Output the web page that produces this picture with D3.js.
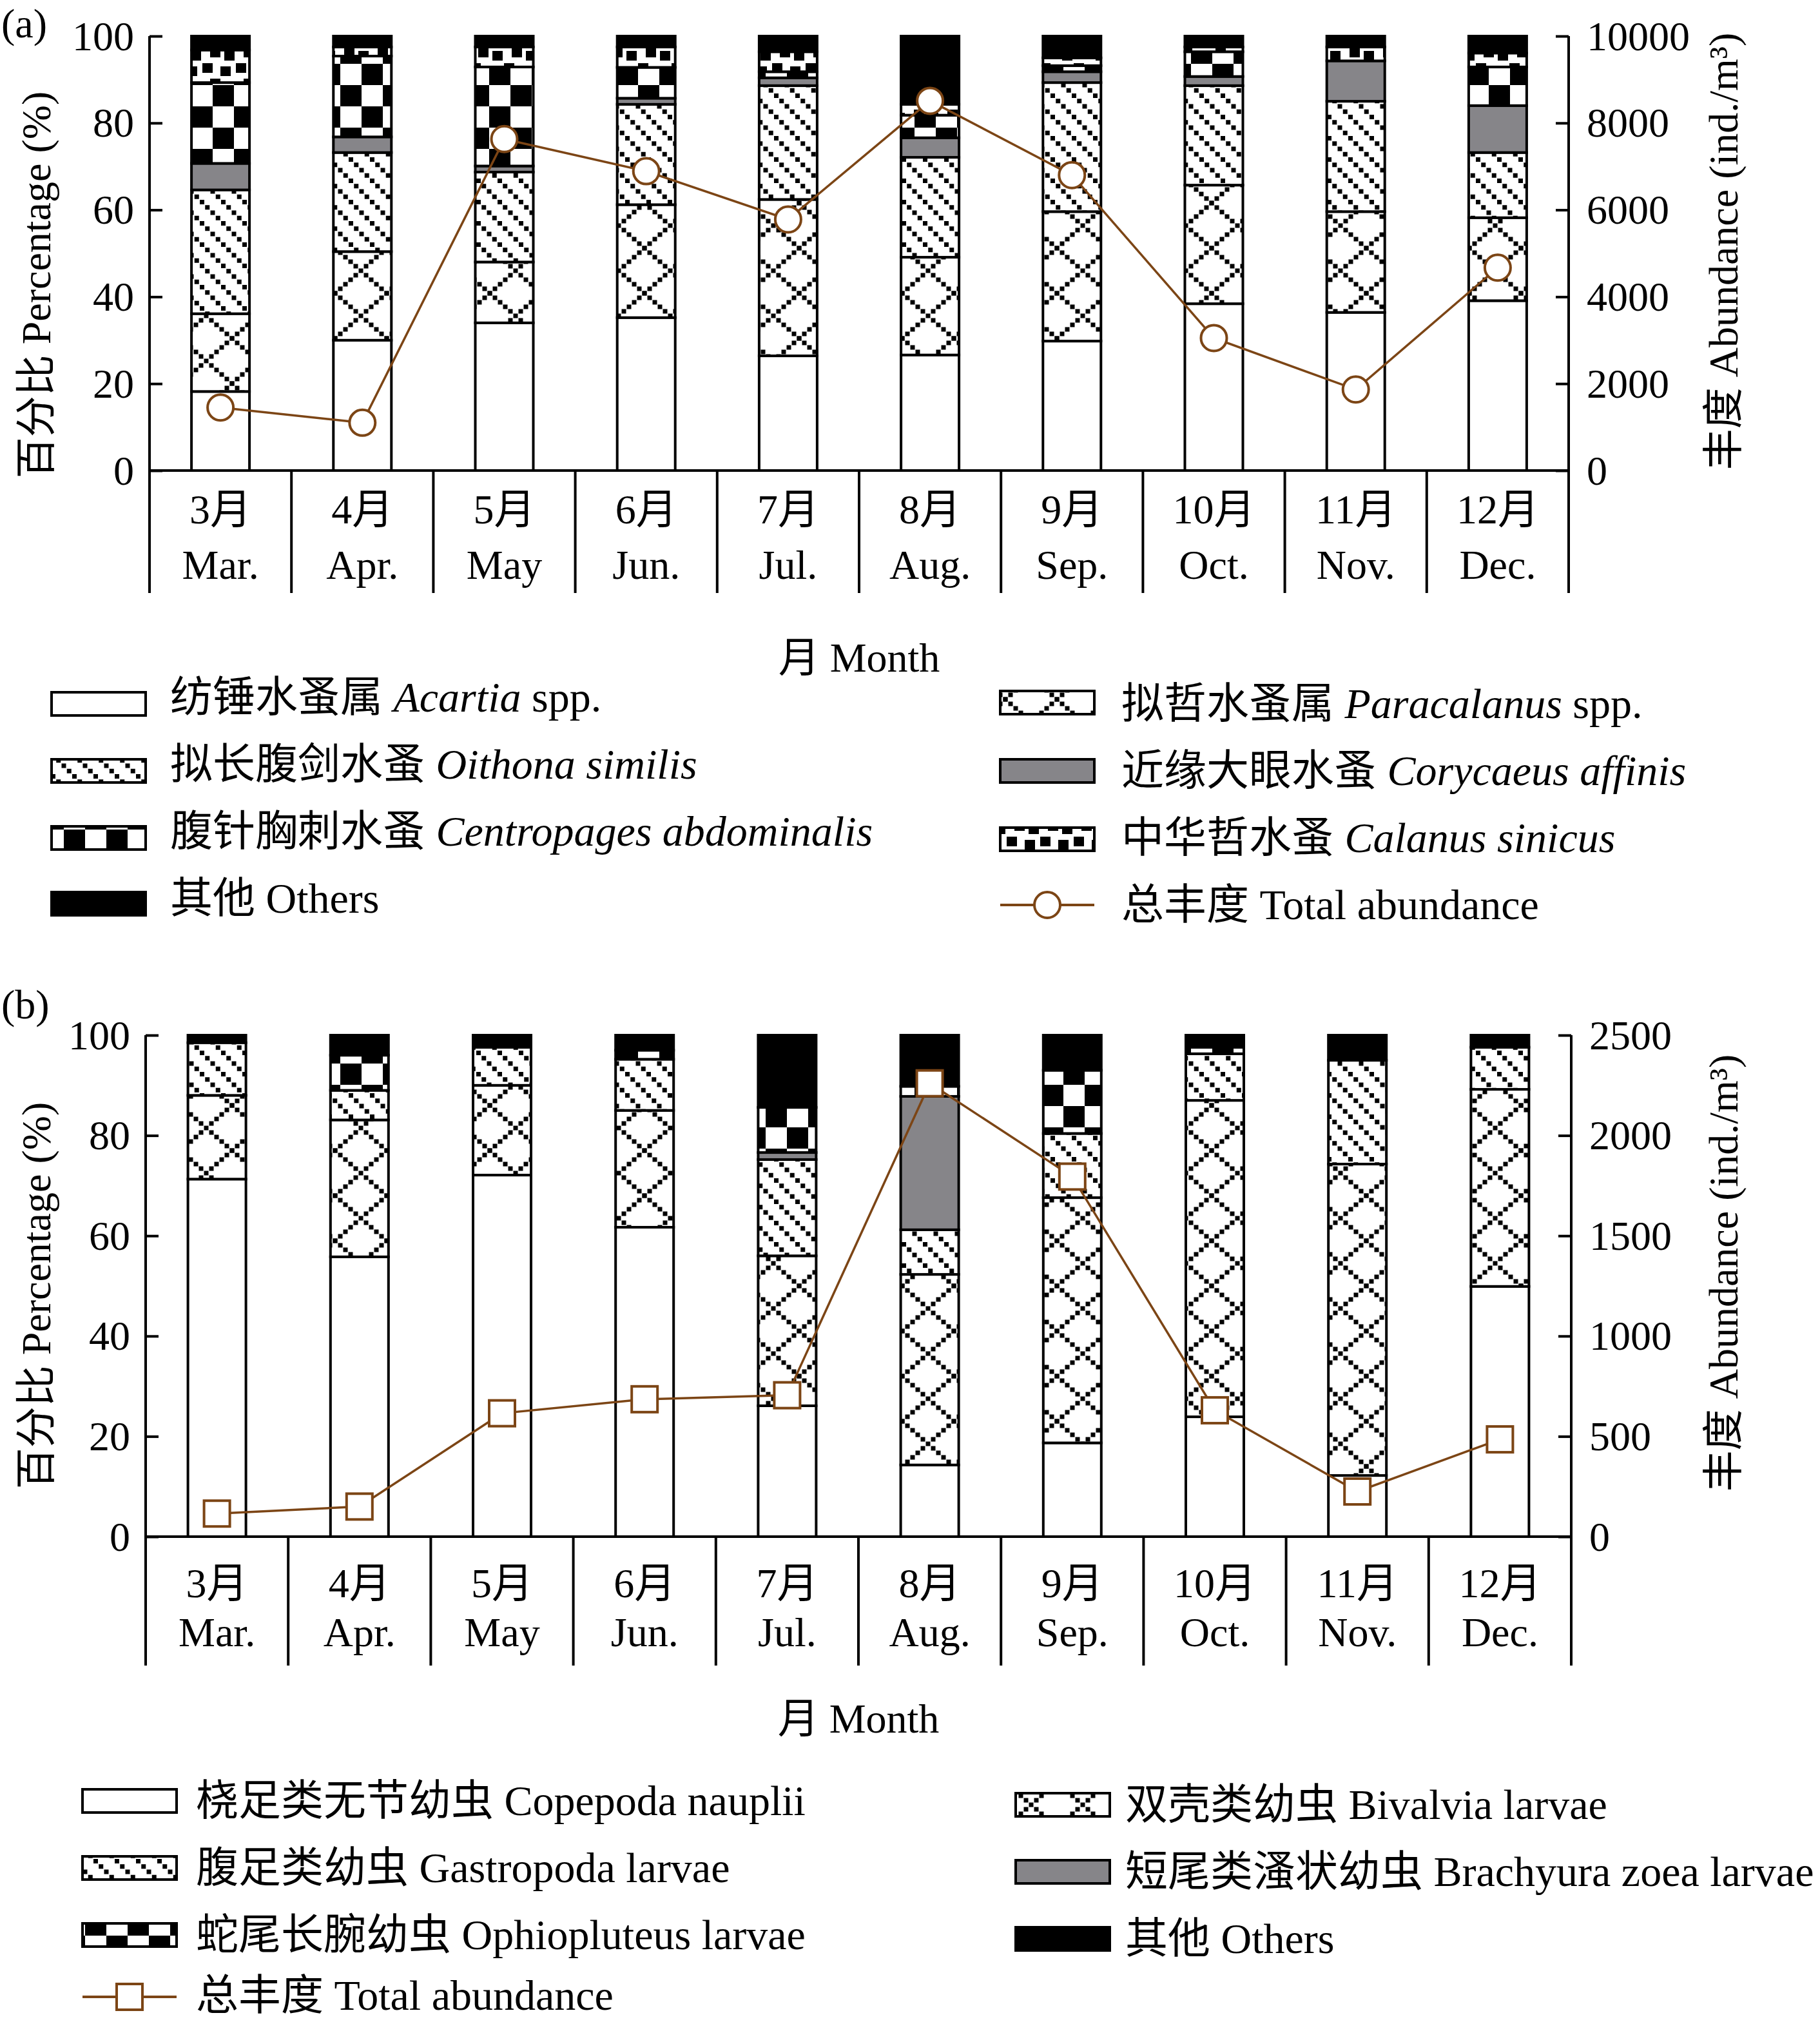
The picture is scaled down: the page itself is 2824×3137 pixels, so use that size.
<!DOCTYPE html>
<html><head><meta charset="utf-8">
<script src="https://cdn.jsdelivr.net/npm/d3@7"></script>
<style>
body{margin:0;background:#fff}
text{font-family:"Liberation Serif","Noto Sans CJK SC",serif;fill:#000}
</style>
</head><body>
<svg id="c" width="2824" height="3137"></svg>
<script>
// ---------------- DATA ----------------
const monthsCN = ["3月","4月","5月","6月","7月","8月","9月","10月","11月","12月"];
const monthsEN = ["Mar.","Apr.","May","Jun.","Jul.","Aug.","Sep.","Oct.","Nov.","Dec."];
const pctTicks = [0,20,40,60,80,100];
const abundTicksA = [0,2000,4000,6000,8000,10000];
const abundTicksB = [0,500,1000,1500,2000,2500];

// Panel (a): copepod percentages (%)
const acartia     = [18.2, 30.0, 34.0, 35.2, 26.4, 26.6, 29.8, 38.4, 36.4, 39.1];
const paracalanus = [17.9, 20.4, 14.0, 26.0, 36.0, 22.5, 29.8, 27.3, 23.2, 19.1];
const oithona     = [28.5, 22.8, 20.7, 23.1, 26.2, 23.0, 29.7, 22.9, 25.4, 15.0];
const corycaeus   = [ 6.1,  3.6,  1.4,  1.4,  1.8,  4.5,  2.5,  2.1,  9.3, 10.8];
const centropages = [18.6, 18.6, 22.8,  7.1,  1.4,  5.2,  1.4,  5.7,  0.0,  8.9];
const calanus     = [ 7.5,  2.1,  4.6,  4.7,  4.6,  2.5,  1.8,  1.1,  3.2,  3.2];
const othersA     = [ 3.2,  2.5,  2.5,  2.5,  3.6, 15.7,  5.0,  2.5,  2.5,  3.9];
const totalA      = [1450, 1100, 7630, 6890, 5780, 8510, 6800, 3050, 1865, 4670];

// Panel (b): larvae percentages (%)
const nauplii      = [71.3, 55.8, 72.1, 61.7, 26.1, 14.3, 18.7, 23.9, 12.2, 49.9];
const bivalvia     = [16.7, 27.3, 17.9, 23.3, 29.9, 38.0, 48.9, 63.1, 62.1, 39.3];
const gastropoda   = [10.5,  5.9,  7.6, 10.2, 19.2,  8.9, 12.8,  9.3, 20.7,  8.4];
const brachyura    = [ 0.0,  0.0,  0.4,  0.0,  1.4, 26.6,  0.0,  0.0,  0.0,  0.0];
const ophiopluteus = [ 0.0,  7.0,  0.0,  1.8,  9.0,  2.0, 12.6,  1.3,  0.0,  0.0];
const othersB      = [ 1.5,  4.0,  2.0,  3.0, 14.4, 10.2,  7.0,  2.4,  5.0,  2.4];
const totalB       = [115, 150, 615, 685, 705, 2260, 1795, 630, 225, 485];

// ---------------- SETUP ----------------
const svg = d3.select("#c");
svg.append("rect").attr("width",2824).attr("height",3137).attr("fill","#fff");
const defs = svg.append("defs");
const FS = 64;
const LFS = 66;
const LINEC = "#7c4515";
const GRAY = "#868589";

function pat(id, w, h, draw){
  const p = defs.append("pattern").attr("id",id).attr("patternUnits","userSpaceOnUse")
    .attr("width",w).attr("height",h);
  p.append("rect").attr("width",w).attr("height",h).attr("fill","#fff");
  draw(p);
}
// diamond lattice of small squares
pat("diamond", 80, 70, p => {
  for (let i=0;i<=10;i++){
    p.append("rect").attr("x",8*i-3.5).attr("y",7*i-3.5).attr("width",7).attr("height",7).attr("fill","#000");
    p.append("rect").attr("x",80-8*i-3.5).attr("y",7*i-3.5).attr("width",7).attr("height",7).attr("fill","#000");
  }
});
// dotted diagonal lines
pat("diag", 33, 33, p => {
  const pts = [[0,0],[8.25,8.25],[16.5,16.5],[24.75,24.75],[33,33],[33,0],[0,33]];
  pts.forEach(([cx,cy]) => p.append("rect").attr("x",cx-3.5).attr("y",cy-3.5).attr("width",7).attr("height",7).attr("fill","#000"));
});
// large checkerboard
pat("checker", 66, 66, p => {
  p.append("rect").attr("x",0).attr("y",0).attr("width",33).attr("height",33).attr("fill","#000");
  p.append("rect").attr("x",33).attr("y",33).attr("width",33).attr("height",33).attr("fill","#000");
});
// small irregular blocks
pat("blocks", 52, 48, p => {
  [[2,2,16,15],[30,7,16,15],[14,26,16,15],[36,31,16,15]].forEach(r =>
    p.append("rect").attr("x",r[0]).attr("y",r[1]).attr("width",r[2]).attr("height",r[3]).attr("fill","#000"));
});

const seriesA = [
  {key:"acartia", values:acartia, fill:"#fff"},
  {key:"paracalanus", values:paracalanus, fill:"url(#diamond)"},
  {key:"oithona", values:oithona, fill:"url(#diag)"},
  {key:"corycaeus", values:corycaeus, fill:GRAY},
  {key:"centropages", values:centropages, fill:"url(#checker)"},
  {key:"calanus", values:calanus, fill:"url(#blocks)"},
  {key:"others", values:othersA, fill:"#000"}
];
const seriesB = [
  {key:"nauplii", values:nauplii, fill:"#fff"},
  {key:"bivalvia", values:bivalvia, fill:"url(#diamond)"},
  {key:"gastropoda", values:gastropoda, fill:"url(#diag)"},
  {key:"brachyura", values:brachyura, fill:GRAY},
  {key:"ophiopluteus", values:ophiopluteus, fill:"url(#checker)"},
  {key:"others", values:othersB, fill:"#000"}
];

function styleAxis(a){
  a.attr("font-size",FS).attr("font-family",null);
  a.select(".domain").remove();
  a.selectAll("line").attr("stroke","#000").attr("stroke-width",4);
  a.selectAll("text").attr("font-size",FS).attr("dy","0.33em").attr("fill","#000");
}

function drawPanel(cfg){
  const g = svg.append("g");
  const x = d3.scaleBand().domain(d3.range(10)).range([cfg.left,cfg.right]).padding(0);
  const y = d3.scaleLinear().domain([0,100]).range([cfg.bottom,cfg.top]);
  const yR = d3.scaleLinear().domain([0,cfg.maxR]).range([cfg.bottom,cfg.top]);
  const cx = i => x(i) + x.bandwidth()/2;
  const rows = d3.range(10).map(i => { const r={i}; cfg.series.forEach(s => r[s.key]=s.values[i]); return r; });
  const layers = d3.stack().keys(cfg.series.map(s=>s.key))(rows);
  const bw = 90;
  layers.forEach((layer,li) => {
    g.append("g").selectAll("rect").data(layer.filter(d => d[1]-d[0] > 0)).join("rect")
      .attr("x", d => cx(d.data.i) - bw/2)
      .attr("y", d => y(d[1]))
      .attr("width", bw)
      .attr("height", d => y(d[0]) - y(d[1]))
      .attr("fill", cfg.series[li].fill)
      .attr("stroke","#000").attr("stroke-width",4);
  });
  // axes
  g.append("g").attr("transform",`translate(${cfg.left},0)`)
    .call(d3.axisLeft(y).tickValues(pctTicks).tickFormat(d3.format("d")).tickSizeInner(-20).tickSizeOuter(0).tickPadding(24))
    .call(styleAxis);
  g.append("g").attr("transform",`translate(${cfg.right},0)`)
    .call(d3.axisRight(yR).tickValues(cfg.ticksR).tickFormat(d3.format("d")).tickSizeInner(-20).tickSizeOuter(0).tickPadding(28))
    .call(styleAxis);
  // frame lines
  g.append("line").attr("x1",cfg.left).attr("x2",cfg.right).attr("y1",cfg.bottom).attr("y2",cfg.bottom)
    .attr("stroke","#000").attr("stroke-width",4);
  const edges = d3.range(11).map(k => k<10 ? x(k) : cfg.right);
  g.append("g").selectAll("line").data(edges).join("line")
    .attr("x1",d=>d).attr("x2",d=>d)
    .attr("y1",(d,k) => (k===0 || k===10) ? cfg.top : cfg.bottom)
    .attr("y2",cfg.boxBottom)
    .attr("stroke","#000").attr("stroke-width",4);
  // category labels
  g.append("g").selectAll("text").data(monthsCN).join("text")
    .attr("x",(d,i)=>cx(i)).attr("y",cfg.lab1).attr("text-anchor","middle").attr("font-size",FS).text(d=>d);
  g.append("g").selectAll("text").data(monthsEN).join("text")
    .attr("x",(d,i)=>cx(i)).attr("y",cfg.lab2).attr("text-anchor","middle").attr("font-size",FS).text(d=>d);
  g.append("text").attr("x",(cfg.left+cfg.right)/2).attr("y",cfg.xTitle).attr("text-anchor","middle")
    .attr("font-size",FS).text("月 Month");
  // y titles
  g.append("text").attr("transform",`translate(78,${cfg.yTitleL}) rotate(-90)`).attr("text-anchor","middle")
    .attr("font-size",FS).text("百分比 Percentage (%)");
  g.append("text").attr("transform",`translate(2696,${cfg.yTitleR}) rotate(-90)`).attr("text-anchor","middle")
    .attr("font-size",FS).text("丰度 Abundance (ind./m³)");
  // panel label
  g.append("text").attr("x",2).attr("y",cfg.tag).attr("font-size",FS).text(cfg.tagText);
  // line
  const line = d3.line().x((d,i)=>cx(i)).y(d=>yR(d));
  g.append("path").datum(cfg.total).attr("d",line).attr("fill","none").attr("stroke",LINEC).attr("stroke-width",3.5);
  const mk = g.append("g").selectAll("g").data(cfg.total).join("g");
  if (cfg.marker === "circle") {
    mk.append("circle").attr("cx",(d,i)=>cx(i)).attr("cy",d=>yR(d)).attr("r",20)
      .attr("fill","#fff").attr("stroke",LINEC).attr("stroke-width",4);
  } else {
    mk.append("rect").attr("x",(d,i)=>cx(i)-20).attr("y",d=>yR(d)-20).attr("width",40).attr("height",40)
      .attr("fill","#fff").attr("stroke",LINEC).attr("stroke-width",4);
  }
}

drawPanel({left:232,right:2434,top:56,bottom:730,boxBottom:920,maxR:10000,ticksR:abundTicksA,
  series:seriesA,total:totalA,marker:"circle",lab1:812,lab2:898,xTitle:1042,yTitleL:442,yTitleR:390,
  tag:58,tagText:"(a)"});
drawPanel({left:226,right:2438,top:1606,bottom:2384,boxBottom:2584,maxR:2500,ticksR:abundTicksB,
  series:seriesB,total:totalB,marker:"square",lab1:2478,lab2:2554,xTitle:2688,yTitleL:2010,yTitleR:1975,
  tag:1580,tagText:"(b)"});

// ---------------- LEGENDS ----------------
const legendA = [
  {col:0,row:0,fill:"#fff",cn:"纺锤水蚤属 ",it:"Acartia",rest:" spp."},
  {col:0,row:1,fill:"url(#diag)",cn:"拟长腹剑水蚤 ",it:"Oithona similis",rest:""},
  {col:0,row:2,fill:"url(#checker)",cn:"腹针胸刺水蚤 ",it:"Centropages abdominalis",rest:""},
  {col:0,row:3,fill:"#000",cn:"其他 Others",it:"",rest:""},
  {col:1,row:0,fill:"url(#diamond)",cn:"拟哲水蚤属 ",it:"Paracalanus",rest:" spp."},
  {col:1,row:1,fill:GRAY,cn:"近缘大眼水蚤 ",it:"Corycaeus affinis",rest:""},
  {col:1,row:2,fill:"url(#blocks)",cn:"中华哲水蚤 ",it:"Calanus sinicus",rest:""},
  {col:1,row:3,fill:null,cn:"总丰度 Total abundance",it:"",rest:"",marker:"circle"}
];
const legendB = [
  {col:0,row:0,fill:"#fff",cn:"桡足类无节幼虫 Copepoda nauplii",it:"",rest:""},
  {col:0,row:1,fill:"url(#diag)",cn:"腹足类幼虫 Gastropoda larvae",it:"",rest:""},
  {col:0,row:2,fill:"url(#checker)",cn:"蛇尾长腕幼虫 Ophiopluteus larvae",it:"",rest:""},
  {col:0,row:3,fill:null,cn:"总丰度 Total abundance",it:"",rest:"",marker:"square"},
  {col:1,row:0,fill:"url(#diamond)",cn:"双壳类幼虫 Bivalvia larvae",it:"",rest:""},
  {col:1,row:1,fill:GRAY,cn:"短尾类溞状幼虫 Brachyura zoea larvae",it:"",rest:""},
  {col:1,row:2,fill:"#000",cn:"其他 Others",it:"",rest:""}
];

function drawLegend(items, L){
  const g = svg.append("g");
  items.forEach(it => {
    const sx = L.swX[it.col], tx = L.txX[it.col];
    const cy = L.rows[it.col][it.row];
    if (it.fill) {
      g.append("rect").attr("x",sx).attr("y",cy-18).attr("width",146).attr("height",36)
        .attr("fill",it.fill).attr("stroke","#000").attr("stroke-width",4);
    } else {
      g.append("line").attr("x1",sx).attr("x2",sx+146).attr("y1",cy).attr("y2",cy)
        .attr("stroke",LINEC).attr("stroke-width",4);
      if (it.marker==="circle") g.append("circle").attr("cx",sx+73).attr("cy",cy).attr("r",20)
        .attr("fill","#fff").attr("stroke",LINEC).attr("stroke-width",4);
      else g.append("rect").attr("x",sx+53).attr("y",cy-20).attr("width",40).attr("height",40)
        .attr("fill","#fff").attr("stroke",LINEC).attr("stroke-width",4);
    }
    const t = g.append("text").attr("x",tx).attr("y",L.txRows[it.col][it.row]).attr("font-size",LFS);
    t.append("tspan").text(it.cn);
    if (it.it) t.append("tspan").attr("font-style","italic").text(it.it);
    if (it.rest) t.append("tspan").text(it.rest);
  });
}
drawLegend(legendA, {swX:[80,1552], txX:[264,1740],
  rows:[[1092,1196,1300,1402],[1090,1196,1302,1404]],
  txRows:[[1104,1208,1312,1416],[1114,1218,1322,1426]]});
drawLegend(legendB, {swX:[128,1576], txX:[304,1746],
  rows:[[2794,2898,3002,3098],[2800,2904,3008]],
  txRows:[[2816,2920,3024,3118],[2822,2926,3030]]});
</script>
</body></html>
